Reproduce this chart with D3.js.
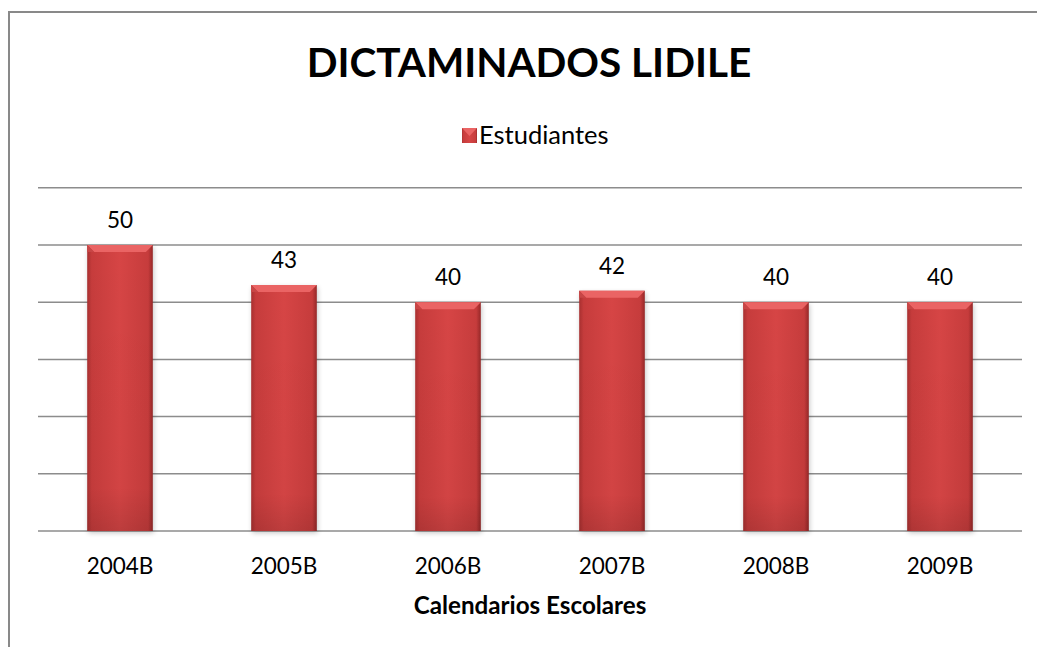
<!DOCTYPE html>
<html><head><meta charset="utf-8">
<script src="https://cdn.jsdelivr.net/npm/d3@7"></script>
<style>body{margin:0;background:#fff}svg{display:block}</style>
</head><body><svg id="c" width="1037" height="647"></svg>
<script>
const categories = ["2004B","2005B","2006B","2007B","2008B","2009B"];
const values = [50,43,40,42,40,40];
const yTicks = [0,10,20,30,40,50,60];
const seriesName = "Estudiantes";
const chartTitle = "DICTAMINADOS LIDILE";
const xTitle = "Calendarios Escolares";

const svg = d3.select("#c");
const font = "Lato, 'Open Sans', sans-serif";
const m = {left:38, right:1022, top:187.8, bottom:531};

// outer border
svg.append("rect").attr("x",9).attr("y",12).attr("width",1100).attr("height",700)
  .attr("fill","#fff").attr("stroke","#898989").attr("stroke-width",2);

const defs = svg.append("defs");
const g1 = defs.append("linearGradient").attr("id","barH").attr("x1",0).attr("x2",1).attr("y1",0).attr("y2",0);
[[0,"#a83030"],[0.07,"#c63c3c"],[0.5,"#d64545"],[0.93,"#c63c3c"],[1,"#962828"]].forEach(s=>g1.append("stop").attr("offset",s[0]).attr("stop-color",s[1]));
const g2 = defs.append("linearGradient").attr("id","barV").attr("x1",0).attr("x2",0).attr("y1",0).attr("y2",1);
[[0,"#000",0],[0.85,"#000",0.02],[1,"#000",0.12]].forEach(s=>g2.append("stop").attr("offset",s[0]).attr("stop-color",s[1]).attr("stop-opacity",s[2]));
const blur = defs.append("filter").attr("id","sh").attr("x","-20%").attr("y","-5%").attr("width","140%").attr("height","115%");
blur.append("feGaussianBlur").attr("stdDeviation",2.5);

const x = d3.scaleBand().domain(categories).range([m.left,m.right]).paddingInner(0.6).paddingOuter(0.3);
const y = d3.scaleLinear().domain([0,60]).range([m.bottom,m.top]);

// gridlines
svg.append("g").selectAll("line").data(yTicks).join("line")
  .attr("x1",m.left).attr("x2",m.right).attr("y1",d=>y(d)).attr("y2",d=>y(d))
  .attr("stroke","#8c8c8c").attr("stroke-width",1.5);

const bars = svg.append("g").selectAll("g").data(categories).join("g");
// shadow
bars.append("rect").attr("x",d=>x(d)+1).attr("y",(d,i)=>y(values[i])+2)
  .attr("width",x.bandwidth()).attr("height",(d,i)=>y(0)-y(values[i]))
  .attr("fill","#000").attr("opacity",0.22).attr("filter","url(#sh)");
bars.append("rect").attr("x",d=>x(d)).attr("y",(d,i)=>y(values[i]))
  .attr("width",x.bandwidth()).attr("height",(d,i)=>y(0)-y(values[i]))
  .attr("fill","url(#barH)");
bars.append("rect").attr("x",d=>x(d)).attr("y",(d,i)=>y(values[i]))
  .attr("width",x.bandwidth()).attr("height",(d,i)=>y(0)-y(values[i]))
  .attr("fill","url(#barV)");
// top bevel
bars.append("path").attr("d",(d,i)=>{
  const x0=x(d), x1=x(d)+x.bandwidth(), t=y(values[i]), b=7;
  return `M${x0},${t}L${x1},${t}L${x1-b},${t+b}L${x0+b},${t+b}Z`;
}).attr("fill","#ea6464");
bars.append("path").attr("d",(d,i)=>{
  const x0=x(d), t=y(values[i]), b=7;
  return `M${x0},${t}L${x0},${t+b}L${x0+b},${t+b}Z`;
}).attr("fill","#c84646");
// value labels
bars.append("text").attr("x",d=>x(d)+x.bandwidth()/2).attr("y",(d,i)=>y(values[i])-17)
  .attr("text-anchor","middle").attr("font-family",font).attr("font-size",22.5).attr("fill","#000")
  .text((d,i)=>values[i]);

// x axis labels
const xAxis = d3.axisBottom(x).tickSize(0).tickPadding(0);
const xa = svg.append("g").attr("transform",`translate(0,${m.bottom})`).call(xAxis);
xa.select(".domain").remove();
xa.selectAll("text").attr("font-family",font).attr("font-size",22.5).attr("fill","#000")
  .attr("dy",null).attr("y",43);

// titles
svg.append("text").attr("x",529).attr("y",77).attr("text-anchor","middle")
  .attr("font-family",font).attr("font-weight","bold").attr("font-size",40.5).text(chartTitle);
svg.append("text").attr("x",530).attr("y",614).attr("text-anchor","middle")
  .attr("font-family",font).attr("font-weight","bold").attr("font-size",24.2).text(xTitle);

// legend
const lg = svg.append("g");
lg.append("rect").attr("x",462).attr("y",128).attr("width",15).attr("height",15).attr("fill","url(#barH)");
lg.append("path").attr("d","M462,128L477,128L469.5,136Z").attr("fill","#ea6464");
lg.append("text").attr("x",479).attr("y",144).attr("font-family",font).attr("font-size",25.5).text(seriesName);
</script></body></html>
